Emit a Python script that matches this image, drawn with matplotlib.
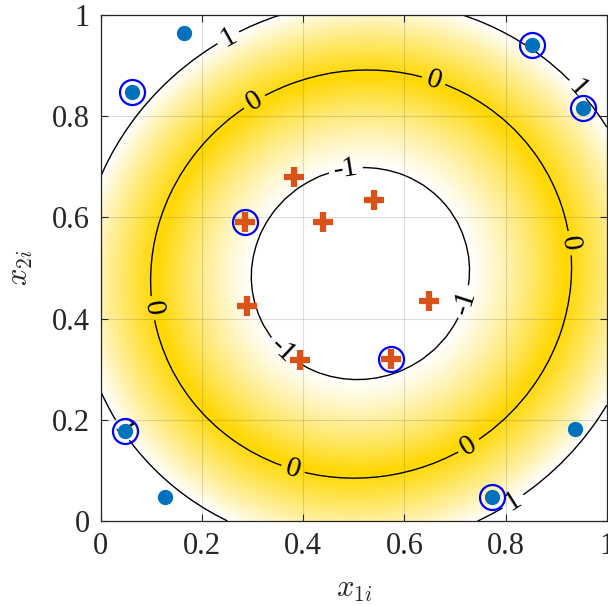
import numpy as np
import matplotlib
matplotlib.use("Agg")
import matplotlib.pyplot as plt
from matplotlib.colors import LinearSegmentedColormap
from matplotlib.ticker import FuncFormatter

plt.rcParams['font.family'] = ['Liberation Serif', 'DejaVu Serif']
plt.rcParams['mathtext.fontset'] = 'cm'

# ── class samples ──────────────────────────────────────────────────────────
neg_x = [0.164, 0.061, 0.852, 0.952, 0.048, 0.127, 0.937, 0.774]
neg_y = [0.964, 0.848, 0.941, 0.816, 0.177, 0.048, 0.181, 0.048]
pos_x = [0.382, 0.284, 0.440, 0.540, 0.288, 0.394, 0.649, 0.574]
pos_y = [0.680, 0.591, 0.591, 0.634, 0.424, 0.318, 0.435, 0.321]

# support vectors (indices into the class lists)
sv_neg = [1, 2, 3, 4, 7]
sv_pos = [1, 7]

# ── points on the -1 / 0 / 1 level sets of the score ──────────────────────
zero_x = [0.530, 0.516, 0.100, 0.933, 0.305, 0.104, 0.792, 0.730, 0.198, 0.378, 0.657, 0.927, 0.107]
zero_y = [0.891, 0.081, 0.482, 0.482, 0.826, 0.516, 0.798, 0.144, 0.206, 0.097, 0.868, 0.549, 0.421]
inner_x = [0.527, 0.508, 0.300, 0.733, 0.486, 0.364, 0.354, 0.726, 0.676]
inner_y = [0.694, 0.273, 0.482, 0.496, 0.680, 0.634, 0.331, 0.431, 0.634]
outer_x = [0.330, 0.710, 0.000, 0.000, 1.000, 1.000, 0.251, 0.745, 0.087, 0.852, 0.952, 0.048, 0.780, 0.251]
outer_y = [1.000, 1.000, 0.688, 0.253, 0.792, 0.213, 0.000, 0.000, 0.818, 0.941, 0.816, 0.177, 0.040, 0.957]

# contour label spots
lab_pos = [(0.251, 0.957), (0.941, 0.852), (0.815, 0.038), (0.058, 0.19),
           (0.305, 0.826), (0.657, 0.868), (0.927, 0.549), (0.107, 0.421), (0.378, 0.097), (0.730, 0.144),
           (0.486, 0.68), (0.354, 0.331), (0.726, 0.431)]


def terms(x, y):
    u, v = x - 0.5, y - 0.5
    r2 = u**2 + v**2
    return np.stack([u**2, u * v, v**2, u, v, np.ones_like(u), r2**2], axis=-1)


lx = np.array(zero_x + inner_x + outer_x)
ly = np.array(zero_y + inner_y + outer_y)
lv = np.array([0.0] * len(zero_x) + [-1.0] * len(inner_x) + [1.0] * len(outer_x))
coef, *_ = np.linalg.lstsq(terms(lx, ly), lv, rcond=None)


def score(x, y):
    return terms(x, y) @ coef


fig = plt.figure(figsize=(6.08, 6.05), dpi=100)
ax = fig.add_axes([100.8 / 608, 84 / 605, 506 / 608, 506 / 605])

# shaded margin band
g = np.linspace(0, 1, 500)
GX, GY = np.meshgrid(g, g)
S = score(GX, GY)
S = np.ma.masked_where(np.abs(S) > 1, S)
cmap = LinearSegmentedColormap.from_list('band', [(0, 'white'), (0.47, '#FFD700'), (1, 'white')])
cmap.set_bad((1, 1, 1, 0))
ax.imshow(S, extent=[0, 1, 0, 1], origin='lower', cmap=cmap, vmin=-1, vmax=1,
          interpolation='bilinear', zorder=0, aspect='auto')

# level lines
c = np.linspace(0, 1, 45)
CX, CY = np.meshgrid(c, c)
cs = ax.contour(CX, CY, score(CX, CY), levels=[-1, 0, 1], colors='k', linewidths=1.0,
                negative_linestyles='solid', zorder=2)
ax.clabel(cs, fmt={-1: '-1', 0: '0', 1: '1'}, fontsize=21, inline=True, manual=lab_pos)

ax.plot(neg_x, neg_y, 'o', color='#0072BD', markersize=10, linestyle='none', zorder=4)
ax.plot(pos_x, pos_y, '+', color='#D95319', markersize=15, mew=4.5, linestyle='none', zorder=4)
ax.plot([neg_x[i] for i in sv_neg] + [pos_x[i] for i in sv_pos],
        [neg_y[i] for i in sv_neg] + [pos_y[i] for i in sv_pos],
        'o', mfc='none', mec='#0000FF', markersize=18, mew=1.6, linestyle='none', zorder=5)

ax.set_xlim(0, 1)
ax.set_ylim(0, 1)
ticks = [0, 0.2, 0.4, 0.6, 0.8, 1]
ax.set_xticks(ticks)
ax.set_yticks(ticks)
fmt = FuncFormatter(lambda v, p: '%g' % v)
ax.xaxis.set_major_formatter(fmt)
ax.yaxis.set_major_formatter(fmt)
ax.tick_params(direction='in', length=5, width=0.8, labelsize=22, colors='#262626',
               top=True, right=True, pad=8)
ax.grid(True, color='#262626', alpha=0.15, linewidth=0.8)
for s in ax.spines.values():
    s.set_color('#262626')
    s.set_linewidth(0.9)

ax.set_xlabel(r'$x_{1i}$', fontsize=22, color='#262626', labelpad=10)
ax.set_ylabel(r'$x_{2i}$', fontsize=22, color='#262626', labelpad=12)

fig.savefig('out.png', dpi=100)
